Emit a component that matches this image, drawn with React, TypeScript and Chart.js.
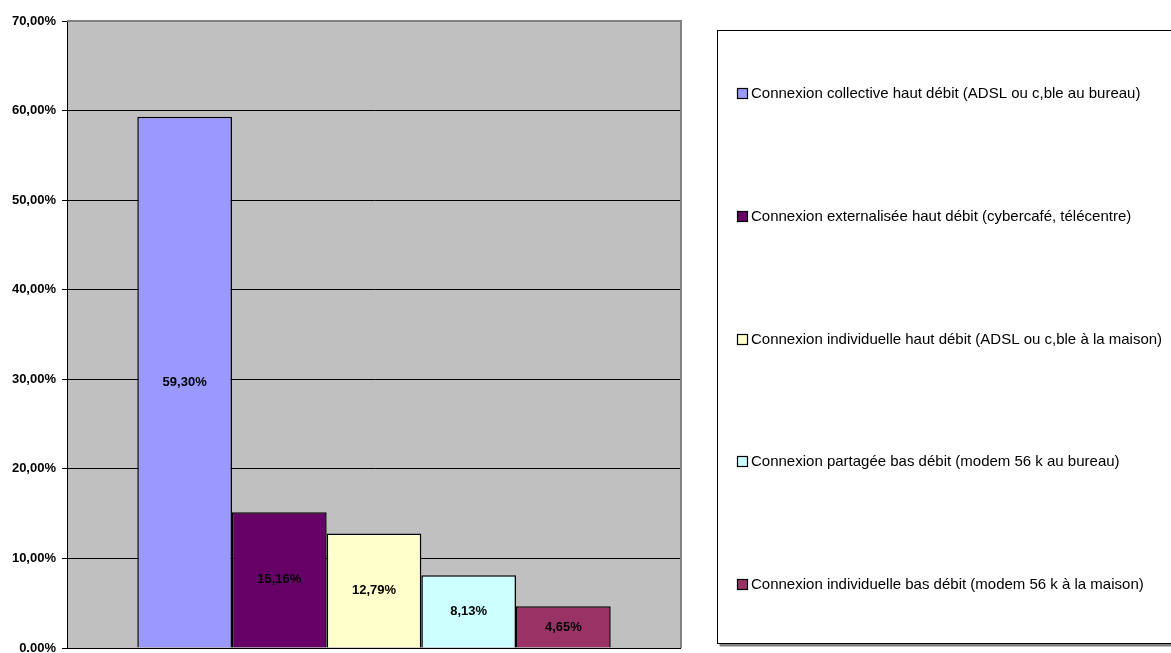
import React, { useEffect, useRef } from "react";
import { Chart, registerables } from "chart.js";

Chart.register(...registerables);

const categories = [""];
const seriesLabels = [
  "Connexion collective haut débit (ADSL ou c,ble au bureau)",
  "Connexion externalisée haut débit (cybercafé, télécentre)",
  "Connexion individuelle haut débit (ADSL ou c,ble à la maison)",
  "Connexion partagée bas débit (modem 56 k au bureau)",
  "Connexion individuelle bas débit (modem 56 k à la maison)",
];
const seriesValues = [59.3, 15.16, 12.79, 8.13, 4.65];
const valueLabels = ["59,30%", "15,16%", "12,79%", "8,13%", "4,65%"];
const seriesColors = ["#9999FF", "#660066", "#FFFFCC", "#CCFFFF", "#993366"];
const yTickLabels = ["0.00%", "10,00%", "20,00%", "30,00%", "40,00%", "50,00%", "60,00%", "70,00%"];

const FONT = "Arial, 'Liberation Sans', sans-serif";

const decorPlugin = {
  id: "decor",
  beforeDraw(chart: any) {
    const { ctx, chartArea: a } = chart;
    ctx.save();
    ctx.fillStyle = "#C0C0C0";
    ctx.fillRect(a.left, a.top, a.right - a.left, a.bottom - a.top);
    ctx.restore();
  },
  afterDatasetsDraw(chart: any) {
    const { ctx, chartArea: a } = chart;
    ctx.save();
    ctx.strokeStyle = "#808080";
    ctx.lineWidth = 2;
    ctx.beginPath();
    ctx.moveTo(a.left, a.top);
    ctx.lineTo(a.right, a.top);
    ctx.lineTo(a.right, a.bottom);
    ctx.stroke();
    ctx.strokeStyle = "#000";
    ctx.lineWidth = 1;
    ctx.beginPath();
    ctx.moveTo(a.left, a.bottom + 0.5);
    ctx.lineTo(a.right, a.bottom + 0.5);
    ctx.stroke();
    ctx.font = `bold 13px ${FONT}`;
    ctx.fillStyle = "#000";
    ctx.textAlign = "center";
    ctx.textBaseline = "middle";
    chart.data.datasets.forEach((ds: any, i: number) => {
      const meta = chart.getDatasetMeta(i);
      meta.data.forEach((bar: any) => {
        const y = (bar.y + bar.base) / 2;
        ctx.fillText(valueLabels[i], bar.x, y);
      });
    });
    const bx = 717.5, by = 30.5, bw = 470, bh = 613;
    ctx.fillStyle = "#808080";
    ctx.fillRect(bx + 2, by + bh, bw, 3);
    ctx.fillStyle = "#fff";
    ctx.fillRect(bx, by, bw, bh);
    ctx.strokeStyle = "#000";
    ctx.lineWidth = 1;
    ctx.strokeRect(bx, by, bw, bh);
    const n = chart.data.datasets.length;
    const step = bh / n;
    ctx.font = `15px ${FONT}`;
    ctx.textAlign = "left";
    ctx.textBaseline = "middle";
    chart.data.datasets.forEach((ds: any, i: number) => {
      const cy = Math.round(by + 1.5 + step * (i + 0.5)) + 0.5;
      ctx.fillStyle = ds.backgroundColor;
      ctx.fillRect(737.5, cy - 5, 10, 10);
      ctx.strokeStyle = "#000";
      ctx.lineWidth = 1.2;
      ctx.strokeRect(737.5, cy - 5, 10, 10);
      ctx.fillStyle = "#000";
      ctx.fillText(ds.label, 751, cy);
    });
    ctx.restore();
  },
};

export default function App() {
  const ref = useRef<HTMLCanvasElement | null>(null);
  useEffect(() => {
    if (!ref.current) return;
    const chart = new Chart(ref.current, {
      type: "bar",
      data: {
        labels: categories,
        datasets: seriesLabels.map((label, i) => ({
          label,
          data: [seriesValues[i]],
          backgroundColor: seriesColors[i],
          borderColor: "#000",
          borderWidth: 1.5,
          categoryPercentage: 0.771,
          barPercentage: 1,
        })),
      },
      options: {
        animation: false,
        responsive: true,
        maintainAspectRatio: false,
        layout: { padding: { left: 0, top: 21, right: 490, bottom: 5 } },
        plugins: {
          legend: { display: false },
          tooltip: { enabled: false },
        },
        scales: {
          x: { display: false },
          y: {
            min: 0,
            max: 70,
            afterFit: (s: any) => {
              s.width = 67;
              s.paddingTop = 0;
              s.paddingBottom = 0;
            },
            ticks: {
              stepSize: 10,
              padding: 6,
              color: "#000",
              font: { family: FONT, size: 13, weight: "bold" },
              callback: (v: any, idx: number) => yTickLabels[idx],
            },
            grid: {
              color: (c: any) => (c.tick && c.tick.value === 70 ? "rgba(0,0,0,0)" : "#000"),
              tickColor: "#000",
              tickLength: 5,
              lineWidth: 1,
            },
            border: { display: true, color: "#000", width: 1 },
          },
        },
      },
      plugins: [decorPlugin],
    });
    return () => chart.destroy();
  }, []);
  return (
    <div style={{ position: "absolute", left: 0, top: 0, width: 1171, height: 653, background: "#fff" }}>
      <canvas ref={ref} />
    </div>
  );
}
